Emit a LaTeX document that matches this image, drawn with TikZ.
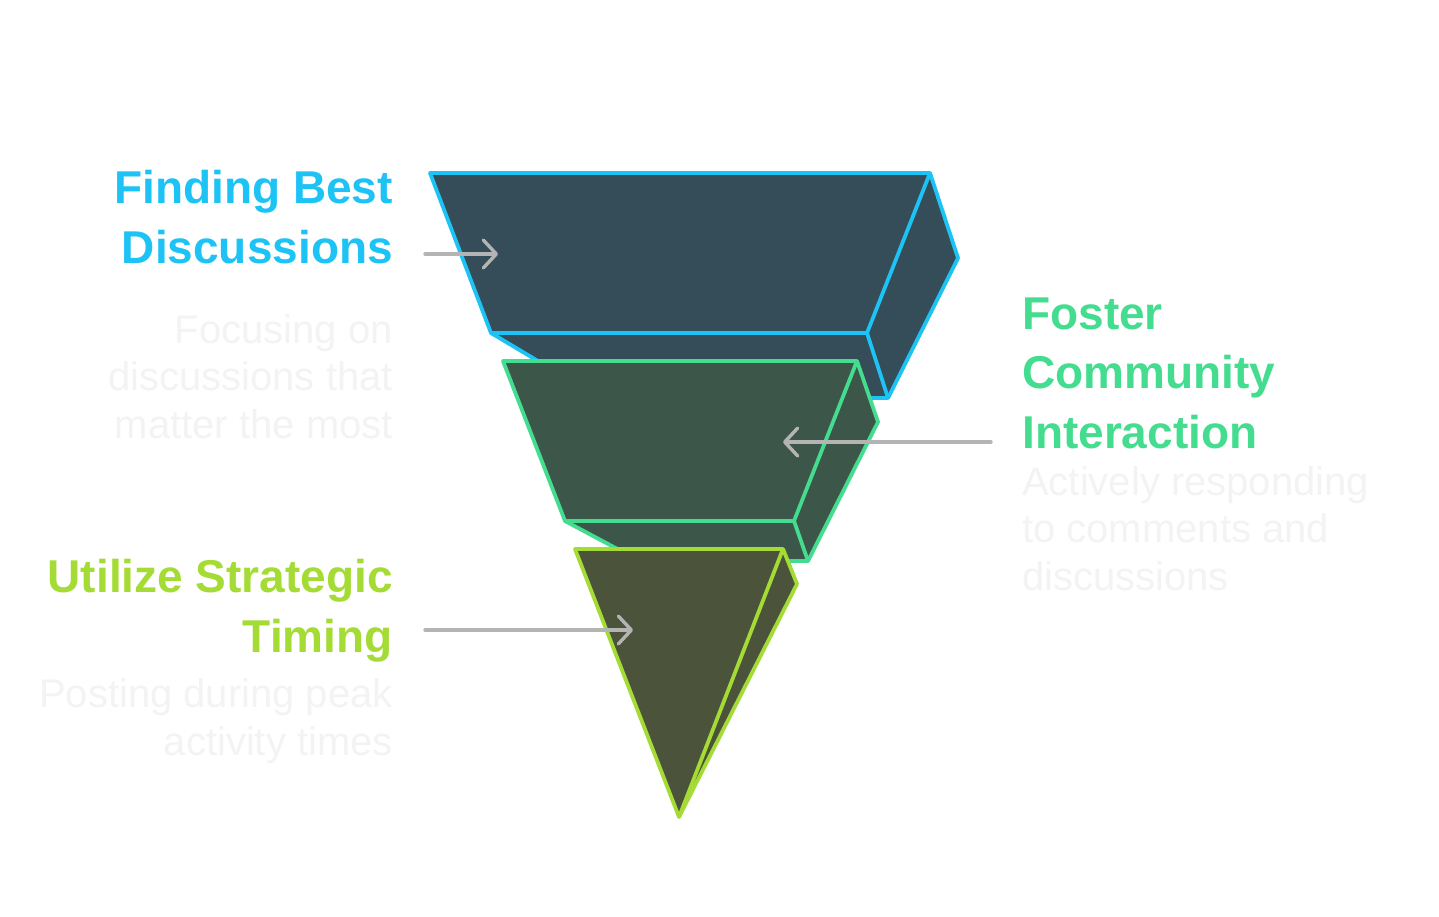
\documentclass[tikz,border=0pt]{standalone}
\usepackage{fontspec}
\setmainfont{Liberation Sans}
\usetikzlibrary{arrows.meta}
\definecolor{findline}{HTML}{1EC3F6}
\definecolor{findfill}{HTML}{344D58}
\definecolor{fosterline}{HTML}{44DC8F}
\definecolor{fosterfill}{HTML}{3C5649}
\definecolor{timeline}{HTML}{A5DB35}
\definecolor{timefill}{HTML}{4B533A}
\definecolor{desctext}{HTML}{F3F3F3}
\definecolor{pointgray}{HTML}{B4B4B4}
\tikzset{
  layer/.style= {line width=3.8pt, line join=round},
  title/.style= {font=\bfseries\fontsize{46}{59.5}\selectfont, inner sep=0},
  desc/.style= {font=\fontsize{40}{47.5}\selectfont, inner sep=0, text=desctext},
  pointer/.style= {draw=pointgray, line width=3.4pt, line cap=round,
    -{Straight Barb[length=13pt, width=28pt, line width=3.4pt, round]}},
}

\begin{document}
\begin{tikzpicture}[x=1pt, y=-1pt]
  \useasboundingbox (0,0) rectangle (1439,916);

  % top layer
  \draw [layer, draw=findline, fill=findfill] (430,173) -- (930,173) -- (958,258) -- (888,398) -- (600,398) -- (491,333) -- cycle;
  \draw [layer, draw=findline] (491,333) -- (867,333) -- (930,173) (867,333) -- (888,398);

  % middle layer
  \draw [layer, draw=fosterline, fill=fosterfill] (503,361) -- (857,361) -- (878,422) -- (808,561) -- (640,561) -- (565,521) -- cycle;
  \draw [layer, draw=fosterline] (565,521) -- (794,521) -- (857,361) (794,521) -- (808,561);

  % bottom layer
  \draw [layer, draw=timeline, fill=timefill] (575,549) -- (783,549) -- (797,584) -- (679,817) -- cycle;
  \draw [layer, draw=timeline] (783,549) -- (679,817);

  % labels (base = last line)
  \node [title, text=findline, anchor=base east, align=right] (t1) at (393,263) {Finding Best\\Discussions};
  \node [desc, anchor=base east, align=right] (d1) at (393,438) {Focusing on\\discussions that\\matter the most};
  \node [title, text=fosterline, anchor=base west, align=left] (t2) at (1022,448) {Foster\\Community\\Interaction};
  \node [desc, anchor=base west, align=left] (d2) at (1022,590) {Actively responding\\to comments and\\discussions};
  \node [title, text=timeline, anchor=base east, align=right] (t3) at (393,652) {Utilize Strategic\\Timing};
  \node [desc, anchor=base east, align=right] (d3) at (393,755) {Posting during peak\\activity times};

  % pointers
  \coordinate (s1) at (425,254);
  \coordinate (e1) at (498,254);
  \coordinate (s2) at (991,442);
  \coordinate (e2) at (783,442);
  \coordinate (s3) at (425,630);
  \coordinate (e3) at (633,630);
  \draw [pointer] (s1) -- (e1);
  \draw [pointer] (s2) -- (e2);
  \draw [pointer] (s3) -- (e3);
\end{tikzpicture}
\end{document}
